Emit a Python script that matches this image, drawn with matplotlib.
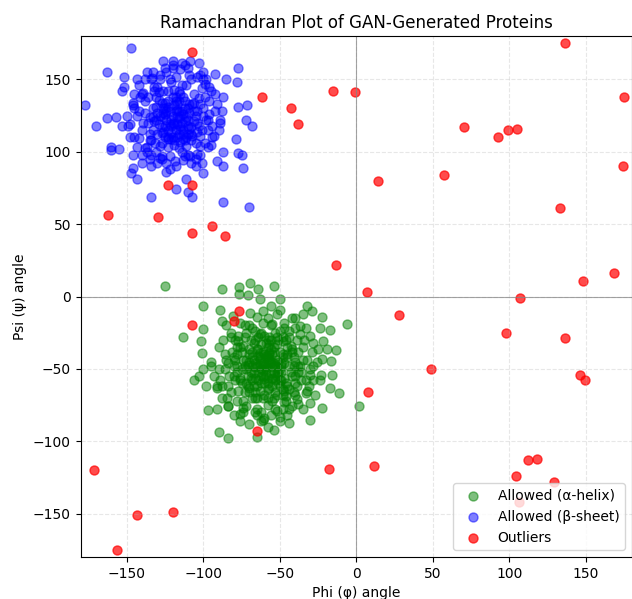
import numpy as np
import matplotlib
matplotlib.use("Agg")
import matplotlib.pyplot as plt

# (phi, psi) pairs in degrees
helix_pts = [
    # outer ring
    (-125, 7), (-88, 5), (-76.6, 6.7), (-69.4, 9), (-64, 5.3), (-54, 7.1), (-76.6, 1.4), (-71, 0.7),
    (-100, -6.7), (-89, -9), (-63, -2), (-50, -1.6), (-56, -6.7), (-32.4, -6.7), (-29, -10),
    (-34.6, -12.4), (-22.6, -14), (-5.9, -18.9), (-23.7, -21.6), (-17, -22.8), (-21.5, -30.9),
    (-19.3, -36.6), (-13.3, -37), (-22.6, -43.5), (-16.5, -44.7), (-16, -54), (-23, -54),
    (-17.2, -63), (-11.1, -66.6), (1.8, -75.8), (-22.6, -77), (-30, -73.5), (-30, -85.5),
    (-44, -87.3), (-50, -86.2), (-54, -92.4), (-61, -85), (-64.7, -81.8), (-76, -86), (-76, -80.9),
    (-89.5, -93.8), (-84, -98), (-64.7, -97), (-97, -78.6), (-90.8, -78), (-83.6, -75.8),
    (-105.8, -57.8), (-103, -54.6), (-98.4, -62), (-100, -50.4), (-113, -27.9), (-101.4, -30.9),
    (-101, -38.9), (-100, -22.3), (-88, -17), (-94.7, -47.7), (-91, -63), (-84.6, -70),
    (-73.8, -77), (-47.7, -78), (-39, -71), (-32.4, -65.4), (-28, -57.4), (-28, -48),
    (-24.8, -36.6), (-30, -27.4), (-36.8, -20.5), (-42, -14.7), (-50, -9), (-60.7, -10),
    (-69.4, -11.3), (-80.3, -13.6),
    # middle band
    (-85, -20), (-90, -35), (-93, -55), (-88, -70), (-80, -82), (-70, -88), (-58, -90), (-45, -82),
    (-35, -78), (-27, -68), (-24, -58), (-26, -45), (-28, -32), (-33, -22), (-40, -15), (-52, -12),
    (-65, -14), (-76, -18), (-82, -25), (-95, -45), (-87, -30), (-91, -62), (-84, -76), (-74, -80),
    (-62, -86), (-50, -83), (-38, -74), (-31, -62), (-29, -38), (-37, -26), (-47, -18), (-58, -15),
    (-70, -20), (-79, -30), (-86, -50), (-82, -66), (-72, -76), (-56, -82), (-42, -76), (-33, -67),
    (-30, -54), (-34, -30), (-44, -24), (-55, -19), (-68, -22), (-77, -27), (-85, -44), (-89, -58),
    (-78, -72), (-66, -80), (-52, -79), (-40, -68), (-36, -58), (-32, -44), (-40, -22), (-61, -18),
    (-72, -25), (-81, -38), (-84, -62), (-60, -84),
    (-78, -40), (-75, -60), (-65, -70), (-48, -68), (-40, -55), (-42, -38), (-52, -28), (-66, -30),
    (-73, -48), (-55, -72), (-45, -62), (-38, -48), (-46, -30), (-63, -26), (-76, -35), (-80, -55),
    (-70, -63), (-58, -70), (-47, -65), (-41, -42),
    # core
    (-60, -45), (-55, -40), (-65, -48), (-50, -50), (-58, -35), (-70, -40), (-62, -55), (-48, -42),
    (-53, -58), (-67, -32), (-75, -50), (-45, -35), (-57, -28), (-72, -60), (-42, -55), (-63, -65),
    (-52, -68), (-80, -42), (-40, -45), (-68, -70), (-59, -50), (-54, -46), (-64, -41), (-61, -38),
    (-49, -48), (-56, -53), (-71, -47), (-66, -56), (-46, -60), (-78, -35), (-51, -30), (-62, -25),
    (-73, -28), (-44, -28), (-38, -38), (-36, -52), (-83, -55), (-77, -65), (-58, -75), (-47, -73),
    (-65, -78), (-55, -62), (-69, -52), (-60, -60), (-52, -55), (-57, -43), (-63, -46), (-50, -38),
    (-74, -44), (-44, -48), (-68, -38), (-59, -32), (-54, -35), (-80, -48), (-70, -66), (-48, -64),
    (-41, -66), (-35, -44), (-86, -40), (-76, -56), (-61, -70), (-53, -78), (-66, -24), (-56, -20),
    (-73, -20), (-47, -22), (-39, -30), (-33, -58), (-88, -62), (-82, -28), (-58, -56), (-64, -52),
    (-51, -45), (-67, -44), (-55, -49), (-62, -33), (-49, -58), (-71, -55), (-45, -40), (-60, -48),
    (-57, -39), (-75, -38), (-43, -52), (-65, -62), (-52, -33), (-79, -58), (-37, -48), (-69, -30),
    (-54, -70), (-46, -69), (-63, -42), (-58, -64), (-72, -50), (-48, -31), (-66, -49), (-55, -56),
    (-61, -51), (-50, -62), (-59, -41), (-68, -58), (-40, -60), (-84, -46), (-77, -31), (-53, -25),
    (-35, -35), (-30, -50), (-62, -80), (-74, -72), (-44, -78), (-90, -50), (-56, -46), (-64, -36),
    (-51, -52), (-70, -45), (-60, -57), (-47, -46), (-58, -30), (-66, -66), (-42, -36), (-78, -52),
    (-57, -45), (-62, -50), (-54, -52), (-60, -40), (-52, -44), (-66, -46), (-58, -60), (-50, -58),
    (-64, -58), (-56, -36), (-68, -42), (-48, -40), (-61, -55), (-53, -48), (-59, -49), (-63, -43),
    (-55, -57), (-67, -53), (-49, -52), (-57, -40),
    (-74, -34), (-71, -62), (-44, -64), (-43, -34), (-56, -30), (-78, -48), (-38, -52), (-60, -68),
    (-50, -24), (-66, -70), (-53, -66), (-72, -44), (-47, -56), (-64, -28), (-76, -58), (-41, -48),
    (-58, -42), (-62, -60), (-54, -38), (-68, -48), (-49, -46), (-57, -63), (-65, -36), (-52, -53),
    (-61, -47), (-69, -56), (-45, -42), (-55, -45), (-59, -54), (-63, -39), (-73, -66), (-39, -62),
    (-79, -44), (-48, -28), (-60, -27), (-70, -36), (-46, -72), (-57, -33), (-67, -62), (-51, -60),
]

sheet_pts = [
    # outer ring
    (-147, 172), (-177, 132), (-170, 118), (-163, 155), (-163, 123), (-157, 124), (-152, 152),
    (-152, 145), (-153, 118), (-160, 103), (-160.5, 101), (-155, 102), (-146, 98), (-145.6, 89),
    (-147, 85), (-143, 81.5), (-140, 92), (-134, 90), (-134, 69), (-124.5, 86), (-118, 74),
    (-110, 72), (-107, 69), (-111, 81), (-100, 85), (-91, 93.5), (-87, 90), (-87, 65), (-70, 62),
    (-74, 89), (-75, 97.5), (-77, 99), (-78.6, 108.5), (-68, 118), (-72, 122), (-71.6, 132),
    (-77, 131), (-77, 157.6), (-78, 148), (-85, 150), (-92, 154), (-87, 138), (-97, 122),
    (-93, 111), (-87, 100), (-126, 163), (-119.5, 162.6), (-108.6, 162.6), (-114, 161.5),
    (-103, 161.5), (-102, 153), (-99, 146.5), (-137, 155), (-143.5, 150), (-133.6, 151),
    (-139, 140.8), (-145.6, 134), (-153, 141.9), (-148, 119), (-142, 109.7), (-145, 110),
    (-138, 102.8), (-131.5, 106), (-127, 94.7), (-118.4, 93.5), (-116, 102.8), (-108.6, 97),
    (-105, 90), (-101, 92.4), (-104, 98.8), (-113, 108.5), (-122.8, 108.5),
    # middle band
    (-150, 125), (-148, 110), (-145, 140), (-140, 98), (-138, 150), (-130, 92), (-125, 158),
    (-118, 90), (-112, 160), (-105, 95), (-100, 155), (-95, 105), (-92, 140), (-90, 115),
    (-88, 128), (-143, 103), (-142, 146), (-135, 95), (-133, 155), (-122, 88), (-115, 157),
    (-108, 92), (-98, 150), (-94, 110), (-91, 133), (-149, 118), (-146, 132), (-137, 100),
    (-128, 96), (-120, 160), (-110, 158), (-102, 98), (-96, 145), (-89, 122), (-141, 138),
    (-134, 98), (-124, 92), (-113, 94), (-104, 152), (-97, 103), (-139, 120), (-135, 108),
    (-130, 145), (-122, 97), (-112, 97), (-102, 104), (-96, 126), (-99, 138), (-108, 150),
    (-128, 153), (-136, 138), (-142, 128),
    # core
    (-120, 120), (-115, 125), (-118, 115), (-125, 118), (-110, 118), (-122, 128), (-112, 130),
    (-128, 125), (-105, 125), (-117, 110), (-130, 112), (-108, 112), (-123, 135), (-113, 138),
    (-100, 130), (-133, 130), (-119, 105), (-127, 106), (-103, 118), (-111, 104), (-136, 120),
    (-98, 122), (-116, 142), (-126, 142), (-106, 140), (-121, 148), (-131, 138), (-96, 135),
    (-138, 127), (-114, 120), (-124, 122), (-109, 127), (-119, 132), (-129, 119), (-102, 111),
    (-134, 108), (-113, 112), (-121, 113), (-126, 130), (-116, 128), (-107, 133), (-97, 115),
    (-140, 115), (-132, 145), (-111, 146), (-101, 144), (-118, 152), (-128, 150), (-92, 128),
    (-143, 125), (-123, 103), (-114, 100), (-105, 106), (-131, 100), (-138, 135), (-99, 106),
    (-120, 138), (-110, 122), (-125, 110), (-115, 116), (-135, 124), (-104, 128), (-117, 124),
    (-127, 134), (-112, 135), (-122, 119), (-108, 117), (-130, 127), (-119, 143), (-103, 137),
    (-94, 118), (-140, 140), (-124, 155), (-109, 153), (-133, 115), (-115, 107), (-100, 125),
    (-126, 114), (-118, 128), (-111, 110), (-95, 142), (-137, 103), (-121, 109), (-106, 121),
    (-129, 141), (-113, 126), (-123, 131), (-116, 135), (-104, 114), (-132, 121), (-89, 120),
    (-145, 130), (-120, 158), (-100, 150), (-127, 97), (-110, 98), (-134, 150), (-117, 119),
    (-125, 126), (-108, 108),
    (-110, 112), (-120, 125), (-125, 130), (-115, 118), (-118, 135), (-123, 110), (-106, 128),
    (-131, 122), (-113, 115), (-121, 118), (-117, 129), (-127, 117), (-109, 133), (-119, 108),
    (-126, 124), (-111, 124), (-124, 128), (-116, 123),
    (-121, 122), (-114, 128), (-127, 113), (-118, 138), (-109, 116), (-131, 131), (-123, 142),
    (-112, 108), (-125, 134), (-116, 112), (-106, 134), (-133, 124), (-119, 119), (-110, 130),
    (-128, 104), (-104, 120), (-135, 112), (-122, 150), (-114, 146), (-101, 115), (-126, 127),
    (-117, 133), (-123, 115), (-112, 121), (-129, 136), (-107, 111), (-120, 110), (-115, 140),
    (-132, 142), (-102, 133),
]

outlier_pts = [
    (-107, 169), (-61.5, 138), (-43, 130), (-38, 119), (-15, 142), (-1, 141), (14, 80), (57, 84),
    (70, 117), (92.5, 110), (99, 115), (105, 116), (136, 175), (175, 138), (174, 90), (133, 61),
    (168, 16), (148, 11), (136, -29), (107, -1), (98, -25), (146, -54), (149, -58), (49, -50),
    (28, -13), (7.6, -66), (7, 3), (-13, 22), (112, -113), (118, -112), (129, -128), (104, -124),
    (106, -142), (11.6, -117), (-18, -119), (-65, -93), (-107, -20), (-80, -17), (-76.5, -10),
    (-171, -120), (-143, -151), (-120, -149), (-156, -175), (-162, 56), (-129.5, 55), (-123, 77),
    (-107, 77), (-107, 44), (-94, 49), (-86, 42),
]

helix = np.array(helix_pts)
sheet = np.array(sheet_pts)
outl = np.array(outlier_pts)

fig = plt.figure(figsize=(6.32, 5.99), dpi=100)
ax = fig.add_axes([0.1277, 0.0701, 0.8723, 0.8698])

ax.scatter(helix[:, 0], helix[:, 1], s=42, color="green", alpha=0.5, label="Allowed (α-helix)")
ax.scatter(sheet[:, 0], sheet[:, 1], s=42, color="blue", alpha=0.5, label="Allowed (β-sheet)")
ax.scatter(outl[:, 0], outl[:, 1], s=42, color="red", alpha=0.7, label="Outliers")

ax.axhline(0, color="gray", lw=0.8, alpha=0.7)
ax.axvline(0, color="gray", lw=0.8, alpha=0.7)
ax.set_xlim(-180, 180)
ax.set_ylim(-180, 180)
ax.set_xticks(np.arange(-150, 151, 50))
ax.set_yticks(np.arange(-150, 151, 50))
ax.grid(True, linestyle="--", alpha=0.3)
ax.set_title("Ramachandran Plot of GAN-Generated Proteins")
ax.set_xlabel("Phi (φ) angle")
ax.set_ylabel("Psi (ψ) angle")
ax.legend(loc="lower right")

fig.savefig("out.png", dpi=100)
